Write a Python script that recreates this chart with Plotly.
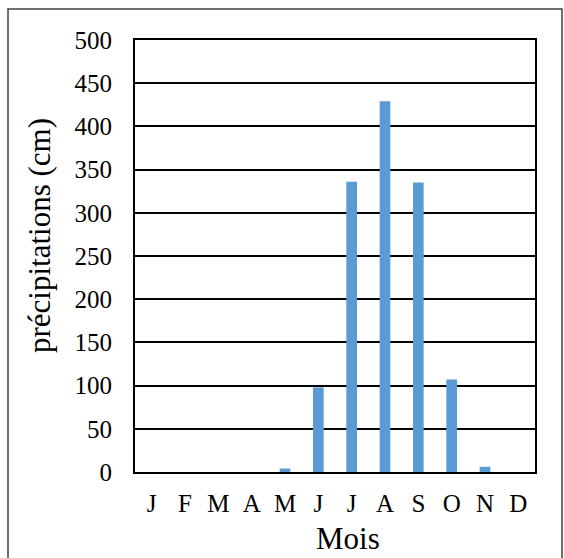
import plotly.graph_objects as go

months = ["J", "F", "M", "A", "M", "J", "J", "A", "S", "O", "N", "D"]
precip = [0, 0, 0, 0, 4, 98, 336, 429, 335, 107, 6, 0]
y_ticks = [0, 50, 100, 150, 200, 250, 300, 350, 400, 450, 500]

x_idx = list(range(len(months)))

L, R, T, B = 135, 535, 40, 472
W, H = 564, 558

def px_x(p):
    return (p - L) / (R - L)

def px_y(p):
    return (B - p) / (B - T)

font = "Liberation Serif"

fig = go.Figure(go.Bar(x=x_idx, y=precip, marker_color="#5B9BD5", marker_line_width=0, width=0.32))

fig.update_layout(
    width=W, height=H,
    margin=dict(l=L, r=W - R, t=T, b=H - B),
    paper_bgcolor="white", plot_bgcolor="white",
    font=dict(family=font, size=25, color="black"),
    showlegend=False,
    bargap=0.68,
)
fig.update_xaxes(
    tickmode="array", tickvals=x_idx, ticktext=months,
    range=[-0.5, 11.5], showgrid=False, showline=True, mirror=True,
    linecolor="black", linewidth=2, ticks="", ticklabelstandoff=8,
    tickfont=dict(family=font, size=25, color="black"),
)
fig.update_yaxes(
    tickmode="array", tickvals=y_ticks, range=[0, 500],
    showgrid=True, gridcolor="black", gridwidth=1.5,
    showline=True, mirror=True, linecolor="black", linewidth=2,
    zeroline=False, ticks="", ticklabelstandoff=16,
    tickfont=dict(family=font, size=25, color="black"),
)
fig.add_annotation(text="précipitations (cm)", xref="paper", yref="paper",
                   x=px_x(39), y=px_y(236), textangle=-90, showarrow=False,
                   font=dict(family=font, size=31, color="black"),
                   xanchor="center", yanchor="middle")
fig.add_annotation(text="Mois", xref="paper", yref="paper",
                   x=px_x(348), y=px_y(538), showarrow=False,
                   font=dict(family=font, size=31, color="black"),
                   xanchor="center", yanchor="middle")
fig.add_shape(type="rect", xref="paper", yref="paper",
              x0=px_x(8), x1=px_x(562), y0=px_y(562), y1=px_y(9),
              line=dict(color="#404040", width=1.5), fillcolor="rgba(0,0,0,0)",
              layer="below")

fig.write_html("out.html")
